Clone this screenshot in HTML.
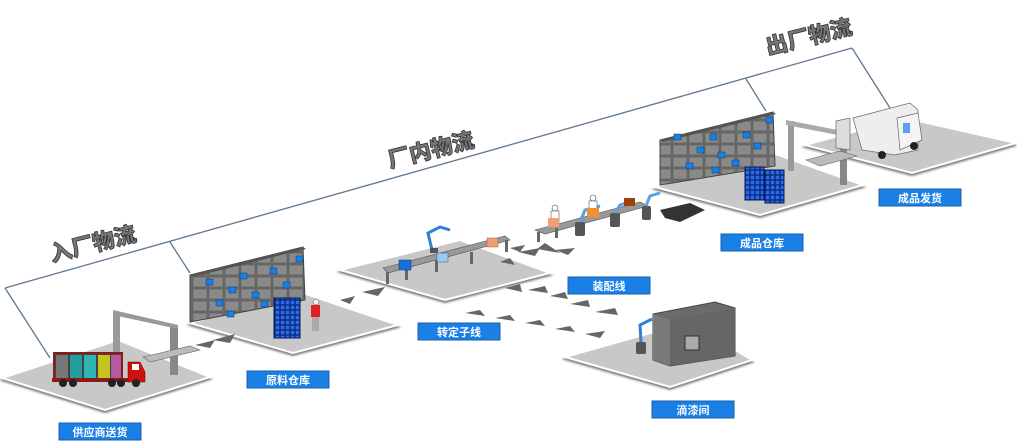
<!DOCTYPE html>
<html><head><meta charset="utf-8"><style>
body{margin:0;background:#fff;}
svg{display:block}
.lb{fill:#1a80e6;stroke:#1b5fa8;stroke-width:1}
.lt{font-family:"Liberation Sans","Noto Sans CJK SC",sans-serif;font-size:11px;font-weight:bold;fill:#fff;text-anchor:middle}
.plat{fill:#c8c8c8;stroke:#fff;stroke-width:2;filter:url(#sh)}
.big{font-family:"Liberation Sans","Noto Sans CJK SC",sans-serif;font-size:22px;font-weight:900;fill:#777;stroke:#333;stroke-width:0.8}
.arr{fill:#666}
</style></head><body>
<svg width="1017" height="447" viewBox="0 0 1017 447" xmlns="http://www.w3.org/2000/svg">
<defs>
<filter id="sh" x="-10%" y="-10%" width="120%" height="130%"><feDropShadow dx="0" dy="2" stdDeviation="1" flood-color="#777"/></filter>
<pattern id="shelf" width="16" height="12" patternUnits="userSpaceOnUse"><rect width="16" height="12" fill="#6e6e6e"/><rect x="1" y="1" width="14" height="10" fill="#8a8a8a" stroke="#555" stroke-width="0.6"/></pattern>
<pattern id="pal" width="5" height="5" patternUnits="userSpaceOnUse"><rect width="5" height="5" fill="#0a2f8a"/><rect x="0.8" y="0.8" width="3.4" height="3.4" fill="#2d6be8"/></pattern>
</defs>

<!-- bracket lines -->
<g stroke="#5f7890" stroke-width="1.3" fill="none">
<line x1="5" y1="288" x2="852" y2="48"/>
<line x1="5" y1="288" x2="50" y2="358"/>
<line x1="170" y1="242" x2="190" y2="273"/>
<line x1="746" y1="79" x2="766" y2="111"/>
<line x1="852" y1="48" x2="890" y2="108"/>
</g>
<text class="big" transform="translate(52,262) rotate(-14)">入厂物流</text>
<text class="big" transform="translate(390,168) rotate(-14)">厂内物流</text>
<text class="big" transform="translate(768,55) rotate(-14)">出厂物流</text>

<!-- platforms -->
<polygon class="plat" points="2,378 118,340 210,377 105,410"/>
<polygon class="plat" points="190,323 300,292 398,325 293,353"/>
<polygon class="plat" points="340,270 460,240 550,273 445,300"/>
<polygon class="plat" points="565,357 690,322 752,360 670,387"/>
<polygon class="plat" points="655,187 770,152 863,185 760,215"/>
<polygon class="plat" points="805,145 905,118 1016,143 912,173"/>

<!-- arrows dashed -->
<g class="arr">
<polygon points="195,345 215,340 210,348"/><polygon points="213,340 235,334 230,343"/>
<polygon points="340,300 355,296 350,304"/><polygon points="362,292 385,287 378,296"/>
<polygon points="510,248 525,245 520,252"/><polygon points="518,252 540,248 535,256"/>
<polygon points="537,249 545,243 560,253"/><polygon points="555,250 575,248 568,255"/>
<polygon points="500,262 510,258 515,265"/>
<polygon points="465,313 480,310 485,316"/><polygon points="495,318 510,315 515,321"/><polygon points="525,323 540,320 545,326"/><polygon points="555,329 570,326 575,332"/><polygon points="585,334 605,331 600,338"/>
<polygon points="528,290 545,286 548,293"/><polygon points="550,296 565,292 568,299"/><polygon points="570,304 588,300 590,307"/><polygon points="595,312 615,308 618,315"/>
<polygon points="505,288 520,284 522,292"/>
</g>

<!-- supplier gate + conveyor + truck -->
<g>
<rect x="113" y="312" width="7" height="50" fill="#999"/>
<rect x="170" y="325" width="8" height="50" fill="#888"/>
<polygon points="113,312 120,312 178,325 170,325" fill="#aaa"/>
<polygon points="113,310 178,325 178,329 113,315" fill="#999"/>
<polygon points="143,357 190,346 200,350 150,362" fill="#bbb" stroke="#666" stroke-width="0.6"/>
<rect x="54" y="353" width="68" height="27" fill="#444" stroke="#8b1b1b" stroke-width="2"/>
<rect x="56" y="355" width="12" height="23" fill="#777"/><rect x="70" y="355" width="12" height="23" fill="#22a0a0"/><rect x="84" y="355" width="12" height="23" fill="#30b5b5"/><rect x="98" y="355" width="12" height="23" fill="#c5c522"/><rect x="111" y="355" width="10" height="23" fill="#b55aa0"/>
<rect x="52" y="378" width="78" height="4" fill="#8b1b1b"/>
<polygon points="128,362 140,362 145,372 145,382 128,382" fill="#cc1111" stroke="#600" stroke-width="0.5"/>
<rect x="132" y="364" width="7" height="6" fill="#fff"/>
<circle cx="63" cy="383" r="4" fill="#222"/><circle cx="73" cy="383" r="4" fill="#222"/><circle cx="112" cy="383" r="4" fill="#222"/><circle cx="121" cy="383" r="4" fill="#222"/><circle cx="136" cy="383" r="4" fill="#222"/>
</g>

<!-- raw warehouse shelves -->
<polygon points="190,275 303,247 305,300 190,322" fill="url(#shelf)" stroke="#444"/>
<polygon points="190,275 303,247 306,249 193,277" fill="#555"/>
<g fill="#1a7fe0" stroke="#0a3a7a" stroke-width="0.5">
<rect x="206" y="279" width="7" height="6"/><rect x="229" y="287" width="7" height="6"/><rect x="240" y="273" width="7" height="6"/><rect x="216" y="300" width="7" height="6"/><rect x="252" y="292" width="7" height="6"/><rect x="270" y="268" width="7" height="6"/><rect x="283" y="282" width="7" height="6"/><rect x="296" y="256" width="7" height="6"/><rect x="227" y="311" width="7" height="6"/><rect x="261" y="301" width="7" height="6"/>
</g>
<rect x="274" y="298" width="26" height="40" fill="url(#pal)" stroke="#061a55"/>
<circle cx="316" cy="302" r="3" fill="#eee" stroke="#444" stroke-width="0.5"/>
<rect x="311" y="305" width="9" height="12" fill="#d22"/>
<rect x="312" y="317" width="7" height="14" fill="#aaa"/>

<!-- stator line -->
<polygon points="383,268 505,236 510,240 388,273" fill="#999" stroke="#555" stroke-width="0.6"/>
<g fill="#666"><rect x="386" y="272" width="3" height="12"/><rect x="405" y="268" width="3" height="12"/><rect x="435" y="260" width="3" height="12"/><rect x="470" y="252" width="3" height="12"/><rect x="505" y="240" width="3" height="12"/></g>
<rect x="399" y="260" width="12" height="10" fill="#1a6fd8" stroke="#0a3a7a" stroke-width="0.5"/>
<rect x="437" y="253" width="11" height="9" fill="#9ccaee" stroke="#457" stroke-width="0.5"/>
<rect x="487" y="238" width="11" height="9" fill="#f0a070" stroke="#a55" stroke-width="0.5"/>
<path d="M432 250 L428 233 L440 227 L450 230" stroke="#2f7fd6" stroke-width="3" fill="none"/>
<rect x="430" y="248" width="8" height="5" fill="#555"/>

<!-- assembly line -->
<polygon points="535,230 640,202 648,206 545,234" fill="#999" stroke="#555" stroke-width="0.6"/>
<g fill="#666"><rect x="537" y="232" width="3" height="10"/><rect x="555" y="228" width="3" height="10"/></g>
<g fill="#555"><rect x="575" y="222" width="10" height="14" rx="2"/><rect x="610" y="213" width="10" height="14" rx="2"/><rect x="642" y="206" width="9" height="14" rx="2"/></g>
<path d="M580 222 L585 210 L600 206 M615 213 L620 205 L632 201 M646 206 L650 196 L660 193" stroke="#5ba0e0" stroke-width="3" fill="none"/>
<circle cx="555" cy="208" r="3" fill="#fff" stroke="#555" stroke-width="0.6"/><rect x="551" y="211" width="8" height="11" fill="#fff" stroke="#555" stroke-width="0.6"/>
<circle cx="593" cy="198" r="3" fill="#fff" stroke="#555" stroke-width="0.6"/><rect x="589" y="201" width="8" height="10" fill="#fff" stroke="#555" stroke-width="0.6"/>
<rect x="548" y="218" width="11" height="9" fill="#f0a070"/>
<rect x="587" y="208" width="12" height="9" fill="#f09030"/>
<rect x="624" y="198" width="11" height="8" fill="#a04010"/>
<polygon points="660,210 690,203 705,210 680,222 665,218" fill="#333"/>

<!-- paint room -->
<polygon points="653,314 715,302 735,308 735,356 670,366 653,360" fill="#6b6b6b" stroke="#444"/>
<polygon points="670,320 735,308 735,356 670,366" fill="#666"/>
<polygon points="653,314 670,320 670,366 653,360" fill="#7a7a7a"/>
<rect x="685" y="336" width="14" height="14" fill="#aaa" stroke="#333"/>
<rect x="636" y="342" width="10" height="12" rx="2" fill="#555"/>
<path d="M641 342 L640 325 L652 319" stroke="#2f7fd6" stroke-width="3" fill="none"/>

<!-- finished warehouse -->
<polygon points="660,140 773,112 775,166 660,185" fill="url(#shelf)" stroke="#444"/>
<polygon points="660,140 773,112 776,114 663,142" fill="#555"/>
<g fill="#1a7fe0" stroke="#0a3a7a" stroke-width="0.5">
<rect x="674" y="134" width="7" height="6"/><rect x="710" y="134" width="7" height="6"/><rect x="743" y="132" width="7" height="6"/><rect x="766" y="117" width="7" height="6"/><rect x="697" y="147" width="7" height="6"/><rect x="754" y="143" width="7" height="6"/><rect x="718" y="152" width="7" height="6"/><rect x="686" y="163" width="7" height="6"/><rect x="732" y="160" width="7" height="6"/><rect x="712" y="167" width="7" height="6"/>
</g>
<rect x="745" y="167" width="19" height="33" fill="url(#pal)" stroke="#061a55"/>
<rect x="765" y="170" width="19" height="33" fill="url(#pal)" stroke="#061a55"/>
<!-- gate -->
<rect x="788" y="121" width="6" height="50" fill="#999"/>
<rect x="840" y="133" width="7" height="52" fill="#888"/>
<polygon points="786,120 848,132 848,137 786,125" fill="#aaa"/>
<polygon points="806,160 840,151 857,156 820,166" fill="#bbb" stroke="#666" stroke-width="0.6"/>
<!-- van -->
<polygon points="853,118 910,103 918,110 918,150 895,155 862,150" fill="#eee" stroke="#666" stroke-width="0.7"/>
<polygon points="897,118 918,113 922,140 900,150" fill="#f4f4f4" stroke="#666" stroke-width="0.7"/>
<rect x="903" y="123" width="7" height="10" fill="#5aa0f0"/>
<polygon points="836,121 850,118 850,150 836,148" fill="#ddd" stroke="#666" stroke-width="0.7"/>
<circle cx="882" cy="155" r="4" fill="#222"/><circle cx="914" cy="146" r="4" fill="#222"/>

<!-- labels -->
<rect class="lb" x="59" y="423" width="82" height="17"/><text class="lt" x="100" y="436">供应商送货</text>
<rect class="lb" x="247" y="371" width="82" height="17"/><text class="lt" x="288" y="384">原料仓库</text>
<rect class="lb" x="418" y="323" width="82" height="17"/><text class="lt" x="459" y="336">转定子线</text>
<rect class="lb" x="568" y="277" width="82" height="17"/><text class="lt" x="609" y="290">装配线</text>
<rect class="lb" x="721" y="234" width="82" height="17"/><text class="lt" x="762" y="247">成品仓库</text>
<rect class="lb" x="879" y="189" width="82" height="17"/><text class="lt" x="920" y="202">成品发货</text>
<rect class="lb" x="652" y="401" width="82" height="17"/><text class="lt" x="693" y="414">滴漆间</text>
</svg>
</body></html>
